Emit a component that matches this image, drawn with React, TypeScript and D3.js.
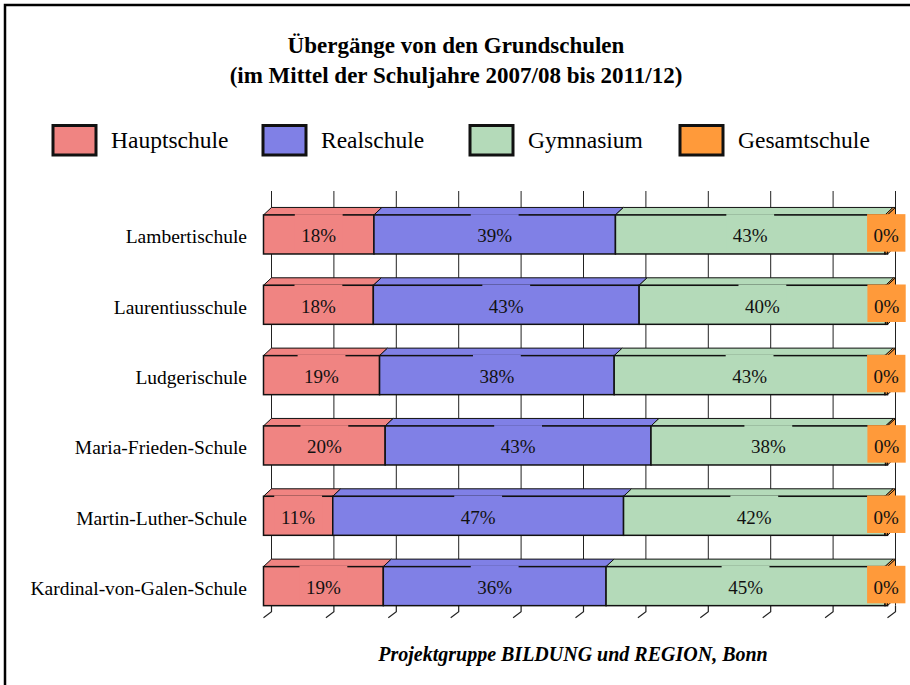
import React from "react";
import * as d3 from "d3";

const titleLines = ["Übergänge von den Grundschulen", "(im Mittel der Schuljahre 2007/08 bis 2011/12)"];
const footer = "Projektgruppe BILDUNG und REGION, Bonn";
const schools = [
  "Lambertischule",
  "Laurentiusschule",
  "Ludgerischule",
  "Maria-Frieden-Schule",
  "Martin-Luther-Schule",
  "Kardinal-von-Galen-Schule",
];
const seriesNames = ["Hauptschule", "Realschule", "Gymnasium", "Gesamtschule"];
const seriesColors = ["#F08482", "#8080E6", "#B4DAB9", "#FF9A3A"];
const hauptschule = [17.7, 17.6, 18.6, 19.5, 11.1, 19.2];
const realschule = [38.7, 42.6, 37.6, 42.6, 46.6, 35.7];
const gymnasium = [43.2, 39.5, 43.4, 37.6, 41.9, 44.7];
const gesamtschule = [0.4, 0.3, 0.4, 0.3, 0.4, 0.4];
const xTicks = [0, 10, 20, 30, 40, 50, 60, 70, 80, 90, 100];
const legendX = [53, 263, 470, 680];

const W = 910;
const H = 685;
const DX = 8;
const DY = 7.5;
const FONT = "'Liberation Serif', 'Times New Roman', serif";

export default function App() {
  const x = d3.scaleLinear().domain([0, 100]).range([263.5, 887.5]);
  const y = d3
    .scaleBand<string>()
    .domain(schools)
    .range([199.3, 621.3])
    .paddingInner(0.445)
    .paddingOuter(0.2225);
  const bw = y.bandwidth();

  const rows = schools.map((s, i) => ({
    school: s,
    Hauptschule: hauptschule[i],
    Realschule: realschule[i],
    Gymnasium: gymnasium[i],
    Gesamtschule: gesamtschule[i],
  }));
  const stacked = d3.stack<any>().keys(seriesNames)(rows);

  const gridTop = 191;
  const floorY = (y(schools[schools.length - 1]) as number) + bw;

  const labelFs = 19;
  const labelW = (t: string) => {
    let w = 0;
    for (const c of t) w += c === "%" ? 0.833 : 0.5;
    return w * labelFs + 13;
  };

  return (
    <svg
      width={W}
      height={H}
      style={{ position: "absolute", left: 0, top: 0, background: "#fff" }}
      fontFamily={FONT}
    >
      <rect x={5} y={5} width={930} height={720} fill="#fff" stroke="#000" strokeWidth={2.5} />
      {/* title */}
      {titleLines.map((t, i) => (
        <text key={i} x={456} y={53 + i * 30} textAnchor="middle" fontWeight="bold" fontSize={23} fill="#000">
          {t}
        </text>
      ))}
      {/* legend */}
      {seriesNames.map((n, i) => (
        <g key={n}>
          <rect x={legendX[i]} y={125.5} width={43} height={29.5} fill={seriesColors[i]} stroke="#111" strokeWidth={3} />
          <text x={legendX[i] + 58} y={148} fontSize={23.5} fill="#000">
            {n}
          </text>
        </g>
      ))}
      {/* gridlines on back wall */}
      {xTicks.map((t) => (
        <g key={t}>
          <line x1={x(t) + DX} x2={x(t) + DX} y1={gridTop} y2={floorY} stroke="#222" strokeWidth={1} />
          <path
            d={`M${x(t) + DX},${floorY} V${floorY + 6} L${x(t)},${floorY + 12}`}
            fill="none"
            stroke="#222"
            strokeWidth={1.2}
          />
        </g>
      ))}
      {/* bars */}
      {schools.map((s, i) => {
        const yT = y(s) as number;
        const yB = yT + bw;
        return (
          <g key={s}>
            {stacked.map((ser, k) => {
              const x0 = x(ser[i][0]);
              const x1 = x(ser[i][1]);
              return (
                <g key={k}>
                  <path
                    d={`M${x0},${yT} L${x1},${yT} L${x1 + DX},${yT - DY} L${x0 + DX},${yT - DY} Z`}
                    fill={seriesColors[k]}
                    stroke="#111"
                    strokeWidth={1}
                    strokeLinejoin="round"
                  />
                  <rect x={x0} y={yT} width={x1 - x0} height={bw} fill={seriesColors[k]} stroke="#111" strokeWidth={1.5} />
                  {k === stacked.length - 1 && (
                    <path
                      d={`M${x1},${yT} L${x1 + DX},${yT - DY} L${x1 + DX},${yB - DY} L${x1},${yB} Z`}
                      fill={seriesColors[k]}
                      stroke="#111"
                      strokeWidth={1}
                    />
                  )}
                </g>
              );
            })}
          </g>
        );
      })}
      {/* value labels */}
      {schools.map((s, i) => {
        const yT = y(s) as number;
        const cy = yT + bw / 2;
        return (
          <g key={s}>
            {stacked.map((ser, k) => {
              const x0 = x(ser[i][0]);
              const x1 = x(ser[i][1]);
              const t = `${Math.round(ser[i][1] - ser[i][0])}%`;
              const w = labelW(t);
              const cx = (x0 + x1) / 2;
              return (
                <g key={k}>
                  <rect x={cx - w / 2} y={yT - 0.8} width={w} height={37.5} fill={seriesColors[k]} />
                  <text x={cx} y={cy + 8} textAnchor="middle" fontSize={labelFs} fill="#111">
                    {t}
                  </text>
                </g>
              );
            })}
          </g>
        );
      })}
      {/* category labels */}
      {schools.map((s) => (
        <text key={s} x={247} y={(y(s) as number) + bw / 2 + 9} textAnchor="end" fontSize={19.5} fill="#000">
          {s}
        </text>
      ))}
      {/* footer */}
      <text x={573} y={661} textAnchor="middle" fontSize={20} fontWeight="bold" fontStyle="italic" fill="#000">
        {footer}
      </text>
    </svg>
  );
}
